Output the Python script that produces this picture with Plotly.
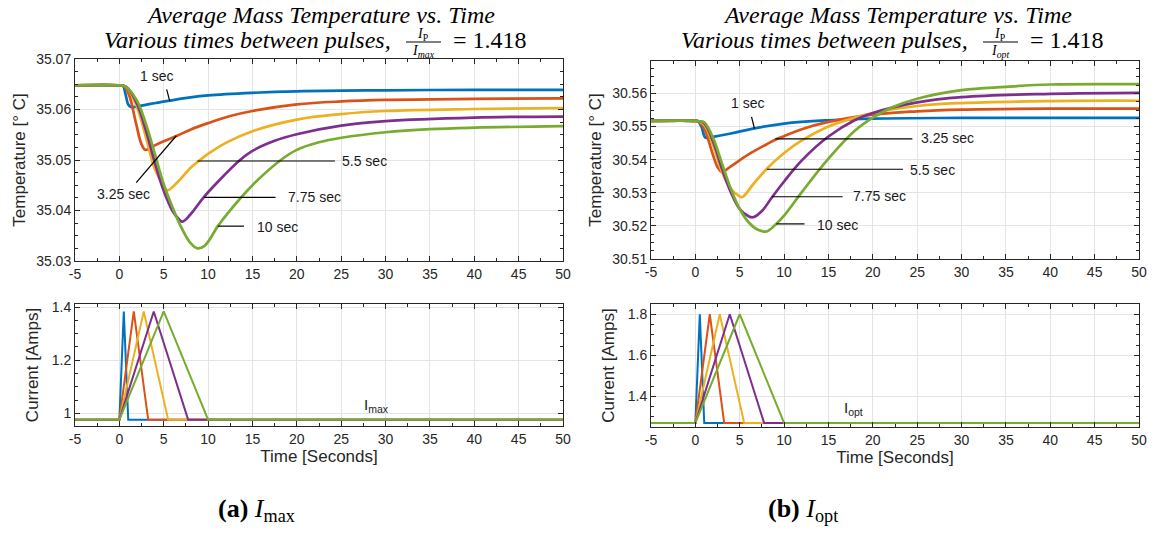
import plotly.graph_objects as go

W, H = 1153, 534
colors = ["#0072BD", "#D95319", "#EDB120", "#7E2F8E", "#77AC30"]
pulse_labels = ["1 sec", "3.25 sec", "5.5 sec", "7.75 sec", "10 sec"]

# ---------------- Data: average mass temperature, I_max case ----------------
tmax_time = [
    [-5, 0, 0.4, 0.7, 1.0, 1.3, 2, 3.5, 5.5, 8, 10, 15, 20, 30, 40, 50],
    [-5, 0, 0.5, 1.07, 1.9, 2.5, 2.95, 4, 5, 6.5, 8, 10, 12.5, 15, 20, 25, 30, 40, 50],
    [-5, 0, 0.5, 1, 2, 3, 4, 5, 5.4, 6.5, 8, 8.8, 10, 12, 15, 20, 25, 30, 40, 50],
    [-5, 0, 0.5, 1, 2, 3, 4, 5, 6, 6.8, 7.1, 8, 9.5, 11, 13.6, 15, 17.5, 20, 25, 30, 40, 50],
    [-5, 0, 0.5, 1, 2, 3, 4, 5, 6, 7, 8, 8.8, 9.6, 11.1, 12, 15, 18.2, 20, 22.5, 25, 30, 35, 40, 50],
]
tmax_temp = [
    [35.0648, 35.0648, 35.0647, 35.0630, 35.0610, 35.0605, 35.0606, 35.0611, 35.0617,
     35.0624, 35.0628, 35.0633, 35.0636, 35.0638, 35.0639, 35.0639],
    [35.0648, 35.0648, 35.0646, 35.0630, 35.0571, 35.0531, 35.0520, 35.0529, 35.0537,
     35.0548, 35.0560, 35.0573, 35.0587, 35.0597, 35.0610, 35.0616, 35.0619, 35.0621, 35.0622],
    [35.0648, 35.0648, 35.0647, 35.0640, 35.0604, 35.0545, 35.0482, 35.0449, 35.0440,
     35.0455, 35.0484, 35.0496, 35.0512, 35.0534, 35.0557, 35.0580, 35.0591, 35.0597,
     35.0601, 35.0603],
    [35.0648, 35.0648, 35.0647, 35.0641, 35.0611, 35.0558, 35.0495, 35.0439, 35.0399,
     35.0381, 35.0378, 35.0392, 35.0426, 35.0455, 35.0500, 35.0518, 35.0538, 35.0551,
     35.0568, 35.0577, 35.0584, 35.0586],
    [35.0648, 35.0648, 35.0647, 35.0641, 35.0617, 35.0571, 35.0512, 35.0452, 35.0406,
     35.0366, 35.0336, 35.0325, 35.0330, 35.0369, 35.0390, 35.0450, 35.0500, 35.0520,
     35.0535, 35.0544, 35.0555, 35.0561, 35.0564, 35.0567],
]

# ---------------- Data: average mass temperature, I_opt case ----------------
topt_time = [
    [-5, 0, 0.3, 0.7, 1.0, 1.2, 2, 4, 6.5, 10, 15, 20, 30, 50],
    [-5, 0, 0.4, 1, 2, 2.5, 3.0, 4, 6, 8, 9, 10, 12, 15, 20, 25, 30, 40, 50],
    [-5, 0, 0.4, 1, 2, 3, 4, 5, 5.3, 6.5, 8, 10, 12, 15, 18, 20, 25, 30, 40, 50],
    [-5, 0, 0.4, 1, 2, 3, 4, 5, 6, 6.5, 7.5, 8.6, 10, 12, 15, 18, 20, 25, 30, 40, 50],
    [-5, 0, 0.4, 1, 2, 3, 4, 5, 6, 7, 8, 9.1, 10, 12, 15, 18, 20, 22, 25, 30, 35, 40, 50],
]
topt_temp = [
    [30.5517, 30.5517, 30.5516, 30.5499, 30.5472, 30.5466, 30.5469, 30.5479, 30.5494,
     30.5509, 30.5519, 30.5524, 30.5526, 30.5526],
    [30.5517, 30.5517, 30.5515, 30.5494, 30.5413, 30.5378, 30.5363, 30.5380, 30.5416,
     30.5446, 30.5460, 30.5471, 30.5492, 30.5514, 30.5536, 30.5546, 30.5551, 30.5554,
     30.5554],
    [30.5517, 30.5517, 30.5515, 30.5505, 30.5443, 30.5363, 30.5312, 30.5289, 30.5287,
     30.5325, 30.5371, 30.5420, 30.5458, 30.5500, 30.5527, 30.5541, 30.5562, 30.5571,
     30.5577, 30.5578],
    [30.5517, 30.5517, 30.5516, 30.5510, 30.5455, 30.5373, 30.5302, 30.5251, 30.5229,
     30.5226, 30.5245, 30.5285, 30.5334, 30.5398, 30.5470, 30.5520, 30.5541, 30.5573,
     30.5589, 30.5599, 30.5602],
    [30.5517, 30.5517, 30.5516, 30.5513, 30.5465, 30.5388, 30.5312, 30.5251, 30.5211,
     30.5189, 30.5183, 30.5206, 30.5231, 30.5302, 30.5403, 30.5488, 30.5527, 30.5556,
     30.5584, 30.5610, 30.5620, 30.5627, 30.5628],
]

# ---------------- Data: current pulses ----------------
pulse_widths = [1, 3.25, 5.5, 7.75, 10]
imax_base, imax_peak = 0.976, 1.384
iopt_base, iopt_peak = 1.27, 1.80

x_ticks = [-5, 0, 5, 10, 15, 20, 25, 30, 35, 40, 45, 50]
x_ticktext = ["-5", "0", "5", "10", "15", "20", "25", "30", "35", "40", "45", "50"]
y1_ticks = [35.03, 35.04, 35.05, 35.06, 35.07]
y2_ticks = [30.51, 30.52, 30.53, 30.54, 30.55, 30.56]
y3_ticks = [1.0, 1.2, 1.4]
y3_text = ["1", "1.2", "1.4"]
y4_ticks = [1.4, 1.6, 1.8]

# label annotations (text position, leader line)  -- data coordinates
lab_max = [
    ("1 sec", 4.2, 35.0667, (5.33, 35.0640, 5.67, 35.0617)),
    ("3.25 sec", 0.5, 35.0432, (1.9, 35.0455, 6.42, 35.0548)),
    ("5.5 sec", 27.6, 35.0498, (8.8, 35.0498, 24.3, 35.0498)),
    ("7.75 sec", 22.0, 35.0426, (9.56, 35.0426, 17.6, 35.0426)),
    ("10 sec", 17.8, 35.0368, (11.1, 35.0369, 14.04, 35.0369)),
]
lab_opt = [
    ("1 sec", 5.9, 30.5572, (6.33, 30.5529, 6.66, 30.5494)),
    ("3.25 sec", 28.4, 30.5464, (9.0, 30.5463, 24.46, 30.5463)),
    ("5.5 sec", 26.7, 30.5368, (8.06, 30.5371, 23.4, 30.5371)),
    ("7.75 sec", 20.75, 30.5290, (8.6, 30.5288, 16.6, 30.5288)),
    ("10 sec", 16.0, 30.5204, (9.13, 30.5206, 12.3, 30.5206)),
]

fig = go.Figure()

for i in range(5):
    fig.add_trace(go.Scatter(x=tmax_time[i], y=tmax_temp[i], mode="lines",
                             line=dict(color=colors[i], width=2.7, shape="spline", smoothing=1.1),
                             xaxis="x", yaxis="y", showlegend=False))
    fig.add_trace(go.Scatter(x=topt_time[i], y=topt_temp[i], mode="lines",
                             line=dict(color=colors[i], width=2.7, shape="spline", smoothing=1.1),
                             xaxis="x2", yaxis="y2", showlegend=False))
for i, w in enumerate(pulse_widths):
    fig.add_trace(go.Scatter(x=[-5, 0, w / 2, w, 50],
                             y=[imax_base, imax_base, imax_peak, imax_base, imax_base],
                             mode="lines", line=dict(color=colors[i], width=2),
                             xaxis="x3", yaxis="y3", showlegend=False))
    fig.add_trace(go.Scatter(x=[-5, 0, w / 2, w, 50],
                             y=[iopt_base, iopt_base, iopt_peak, iopt_base, iopt_base],
                             mode="lines", line=dict(color=colors[i], width=2),
                             xaxis="x4", yaxis="y4", showlegend=False))

axc = "#262626"
tickfont = dict(family="Liberation Sans, Arial, sans-serif", size=14, color=axc)
titlefont = dict(family="Liberation Sans, Arial, sans-serif", size=17, color=axc)


def xax(domain, anchor, title=None):
    d = dict(domain=domain, anchor=anchor, range=[-5, 50], tickvals=x_ticks, ticktext=x_ticktext,
             showline=True, linecolor=axc, linewidth=1, mirror="ticks", ticks="inside",
             ticklen=5, tickcolor=axc, showgrid=True, gridcolor="#e4e4e4", gridwidth=1,
             zeroline=False, tickfont=tickfont, automargin=False,
             minor=dict(ticks="inside", ticklen=3, tickcolor=axc, dtick=2.5, tick0=0, showgrid=False))
    if title:
        d["title"] = dict(text=title, font=titlefont, standoff=4)
    return d


def yax(domain, anchor, rng, tv, tt, minor_dtick, title, standoff):
    return dict(domain=domain, anchor=anchor, range=rng, tickvals=tv, ticktext=tt,
                showline=True, linecolor=axc, linewidth=1, mirror="ticks", ticks="inside",
                ticklen=5, tickcolor=axc, showgrid=True, gridcolor="#e4e4e4", gridwidth=1,
                zeroline=False, tickfont=tickfont, automargin=False,
                minor=dict(ticks="inside", ticklen=3, tickcolor=axc, dtick=minor_dtick,
                           tick0=tv[0], showgrid=False),
                title=dict(text=title, font=titlefont, standoff=standoff))


def px(x):
    return x / W


def py(y):
    return 1 - y / H


L = [px(75), px(563)]
R = [px(651), px(1139)]

fig.update_layout(
    width=W, height=H, margin=dict(l=0, r=0, t=0, b=0, autoexpand=False),
    paper_bgcolor="white", plot_bgcolor="white",
    xaxis=xax(L, "y"),
    yaxis=yax([py(261), py(59)], "x", [35.03, 35.07], y1_ticks, [f"{v:.2f}" for v in y1_ticks],
              0.0025, "Temperature [° C]", 6),
    xaxis2=xax(R, "y2"),
    yaxis2=yax([py(259), py(61)], "x2", [30.51, 30.5698], y2_ticks, [f"{v:.2f}" for v in y2_ticks],
               0.0025, "Temperature [° C]", 6),
    xaxis3=xax(L, "y3", "Time [Seconds]"),
    yaxis3=yax([py(426), py(304)], "x3", [0.952, 1.412], y3_ticks, y3_text, 0.05,
               "Current [Amps]", 8),
    xaxis4=xax(R, "y4", "Time [Seconds]"),
    yaxis4=yax([py(427), py(304)], "x4", [1.25, 1.85], y4_ticks, ["1.4", "1.6", "1.8"], 0.05,
               "Current [Amps]", 8),
)

annots = []
shapes = []
lblfont = dict(family="Liberation Sans, Arial, sans-serif", size=14, color="#1a1a1a")
for labs, xr, yr in [(lab_max, "x", "y"), (lab_opt, "x2", "y2")]:
    for text, tx, ty, (x0, y0, x1, y1) in labs:
        annots.append(dict(text=text, x=tx, y=ty, xref=xr, yref=yr, showarrow=False,
                           xanchor="center", yanchor="middle", font=lblfont))
        shapes.append(dict(type="line", x0=x0, y0=y0, x1=x1, y1=y1, xref=xr, yref=yr,
                           line=dict(color="black", width=1.2)))

annots.append(dict(text="I<sub>max</sub>", x=27.4, y=0.985, xref="x3", yref="y3", showarrow=False,
                   xanchor="left", yanchor="bottom", font=dict(family="Liberation Sans", size=15, color="#1a1a1a")))
annots.append(dict(text="I<sub>opt</sub>", x=16.5, y=1.285, xref="x4", yref="y4", showarrow=False,
                   xanchor="left", yanchor="bottom", font=dict(family="Liberation Sans", size=15, color="#1a1a1a")))

serif = "Liberation Serif, Times New Roman, serif"
for cx, sub in [(320, "max"), (897, "opt")]:
    annots.append(dict(text="<i>Average Mass Temperature vs. Time</i>", x=px(cx), y=py(15),
                       xref="paper", yref="paper", showarrow=False, xanchor="center", yanchor="middle",
                       font=dict(family=serif, size=24, color="black")))
    annots.append(dict(text="<i>Various times between pulses,</i>", x=px(cx + 73), y=py(40),
                       xref="paper", yref="paper", showarrow=False, xanchor="right", yanchor="middle",
                       font=dict(family=serif, size=24, color="black")))
    annots.append(dict(text="<i>I</i><sub>P</sub>", x=px(cx + 103), y=py(34),
                       xref="paper", yref="paper", showarrow=False, xanchor="center", yanchor="middle",
                       font=dict(family=serif, size=14, color="black")))
    annots.append(dict(text=f"<i>I</i><sub><i>{sub}</i></sub>", x=px(cx + 103), y=py(51),
                       xref="paper", yref="paper", showarrow=False, xanchor="center", yanchor="middle",
                       font=dict(family=serif, size=14, color="black")))
    shapes.append(dict(type="line", x0=px(cx + 86), x1=px(cx + 121), y0=py(42), y1=py(42),
                       xref="paper", yref="paper", line=dict(color="black", width=1)))
    annots.append(dict(text="= 1.418", x=px(cx + 131), y=py(40),
                       xref="paper", yref="paper", showarrow=False, xanchor="left", yanchor="middle",
                       font=dict(family=serif, size=24, color="black")))

annots.append(dict(text="<b>(a)</b> <i>I</i><sub>max</sub>", x=px(256), y=py(510), xref="paper",
                   yref="paper", showarrow=False, xanchor="center", yanchor="middle",
                   font=dict(family=serif, size=26, color="black")))
annots.append(dict(text="<b>(b)</b> <i>I</i><sub>opt</sub>", x=px(803), y=py(510), xref="paper",
                   yref="paper", showarrow=False, xanchor="center", yanchor="middle",
                   font=dict(family=serif, size=26, color="black")))

fig.update_layout(annotations=annots, shapes=shapes)
fig.write_html("out.html", config={"displayModeBar": False},
               post_script="document.body.style.margin='0';")
